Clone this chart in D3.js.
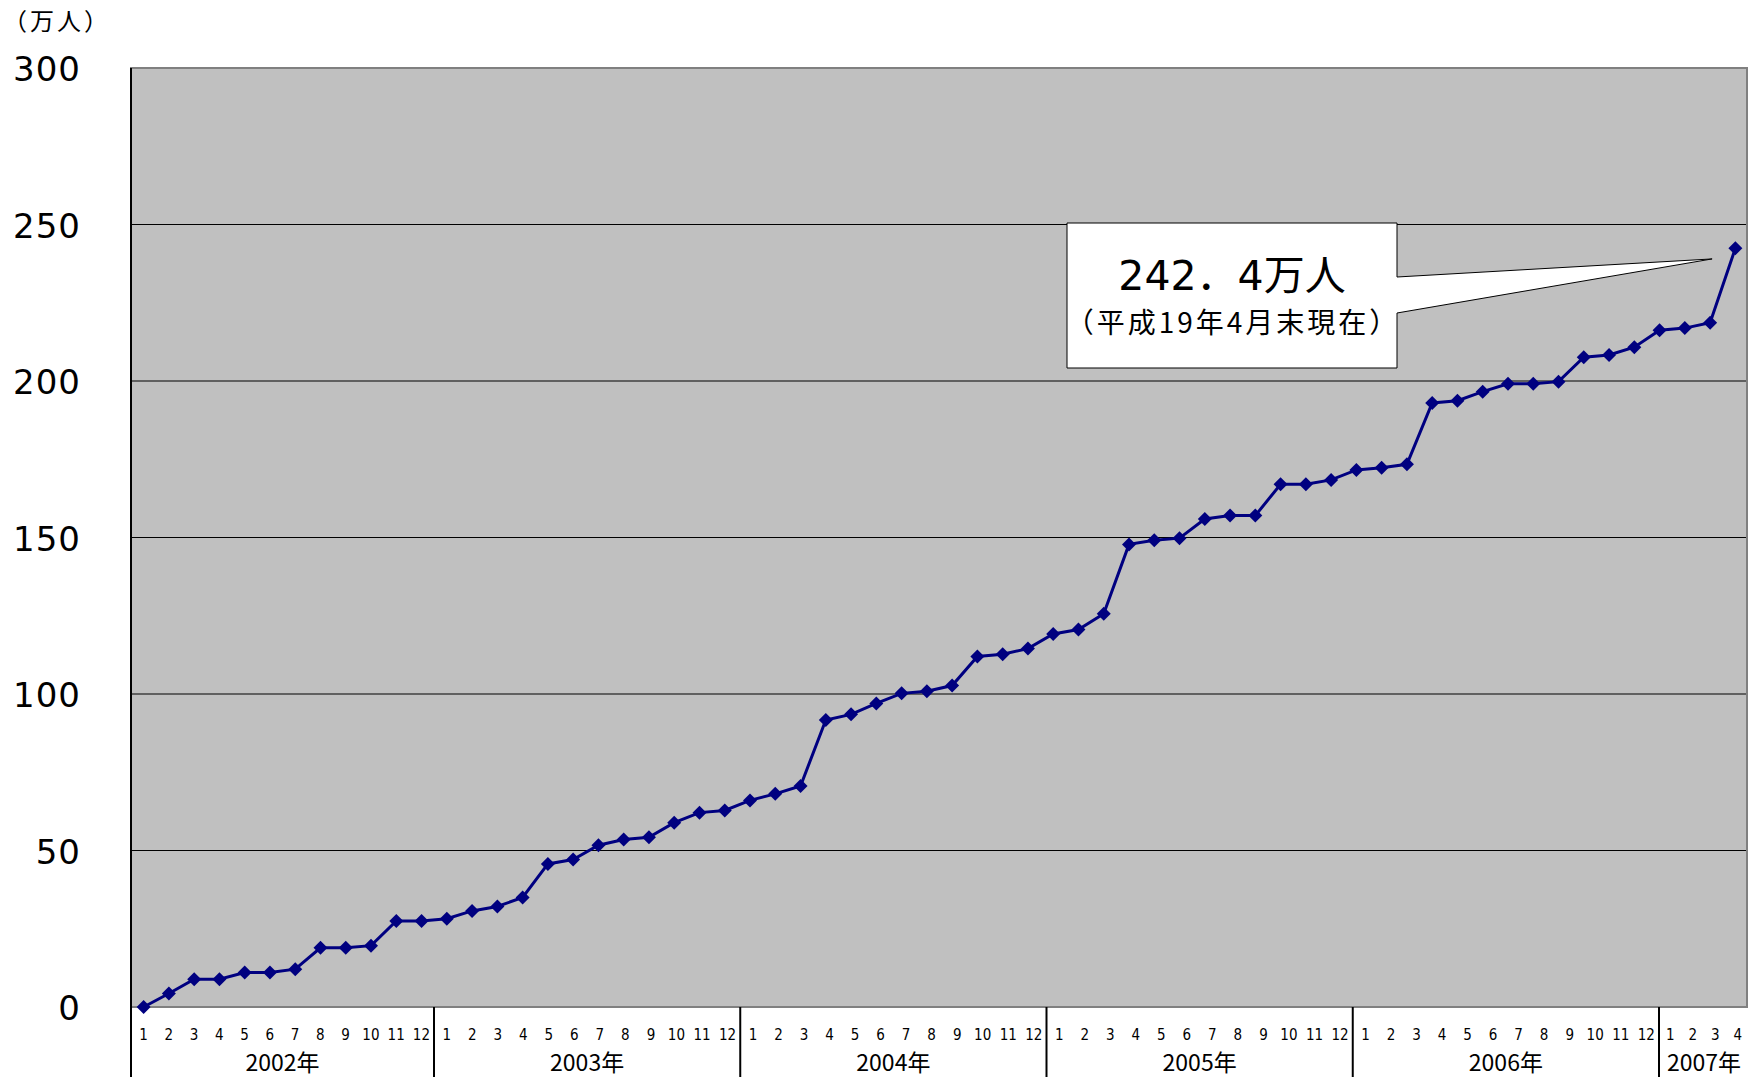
<!DOCTYPE html>
<html>
<head>
<meta charset="utf-8">
<script src="https://cdn.jsdelivr.net/npm/d3@7"></script>
<style>
  body { margin: 0; background: #fff; }
  svg { display: block; }
</style>
</head>
<body>
<div id="chart"></div>
<script>
// months 2002-01 .. 2007-04
var years = ["2002", "2003", "2004", "2005", "2006", "2007"];
var monthsPerYear = [12, 12, 12, 12, 12, 4];
var yTicks = [0, 50, 100, 150, 200, 250, 300];
var values = [
  0, 4.3, 8.9, 8.9, 11, 11, 12.1, 18.9, 18.9, 19.6, 27.5, 27.5,
  28.2, 30.7, 32.1, 35, 45.7, 47.1, 51.7, 53.5, 54.2, 58.9, 62.1, 62.8,
  66, 68.1, 70.6, 91.7, 93.5, 97, 100.2, 100.9, 102.7, 112, 112.7, 114.5,
  119.2, 120.6, 125.6, 147.8, 149.1, 149.8, 155.9, 157, 157, 167, 167, 168.4,
  171.6, 172.3, 173.4, 193, 193.7, 196.6, 199.1, 199.1, 199.8, 207.6, 208.3, 210.8,
  216.2, 216.9, 218.6, 242.4
];
var unitLabel = "（万人）";
var noteMain = "242．4万人";
var noteSub = "（平成19年4月末現在）";

// build category keys
var cats = [];
years.forEach(function(y, i) {
  for (var m = 1; m <= monthsPerYear[i]; m++) cats.push({year: y, month: m, key: y + "-" + m});
});
var data = cats.map(function(c, i) { return {key: c.key, month: c.month, year: c.year, v: values[i]}; });

var W = 1749, H = 1081;
var m = {top: 68, right: 1, bottom: 74, left: 131};
var w = W - m.left - m.right;
var h = H - m.top - m.bottom;

var svg = d3.select("#chart").append("svg")
  .attr("width", W).attr("height", H);

var x = d3.scaleBand().domain(cats.map(function(c) { return c.key; })).range([m.left, m.left + w]);
var y = d3.scaleLinear().domain([0, 300]).range([m.top + h, m.top]);

// the month table under the chart is a bit wider per month than the plot
var xt = d3.scaleLinear().domain([12, 60]).range([434, 1659]);

// plot background
svg.append("rect")
  .attr("x", m.left).attr("y", m.top).attr("width", w).attr("height", h)
  .attr("fill", "#c0c0c0");

// gridlines
svg.append("g").selectAll("line")
  .data(yTicks.filter(function(t) { return t > 0 && t < 300; }))
  .enter().append("line")
  .attr("x1", m.left).attr("x2", m.left + w)
  .attr("y1", function(d) { return y(d); }).attr("y2", function(d) { return y(d); })
  .attr("stroke", "#000").attr("stroke-width", 1);

// plot border
svg.append("rect")
  .attr("x", m.left).attr("y", m.top).attr("width", w - 1).attr("height", h)
  .attr("fill", "none").attr("stroke", "#808080").attr("stroke-width", 2);

// y axis labels
var yAxis = d3.axisLeft(y).tickValues(yTicks).tickSize(0).tickPadding(0);
var gy = svg.append("g").attr("transform", "translate(" + (m.left - 50) + ",0)").call(yAxis);
gy.select(".domain").remove();
gy.selectAll("text")
  .attr("font-family", "'DejaVu Sans', sans-serif")
  .attr("font-size", 34).attr("letter-spacing", 1).attr("fill", "#000").attr("dy", "0.38em");

// left axis line
svg.append("line")
  .attr("x1", m.left).attr("x2", m.left)
  .attr("y1", m.top).attr("y2", H - 4)
  .attr("stroke", "#000").attr("stroke-width", 2);

// year cells: separators, month labels, year labels
var start = 0;
years.forEach(function(yr, i) {
  var n = monthsPerYear[i];
  var c0 = Math.max(xt(start), m.left);
  var c1 = i === years.length - 1 ? W : xt(start + n);
  if (i > 0) {
    svg.append("line")
      .attr("x1", c0).attr("x2", c0)
      .attr("y1", m.top + h).attr("y2", H - 4)
      .attr("stroke", "#000").attr("stroke-width", 2);
  }
  var months = cats.slice(start, start + n).map(function(c) { return c.month; });
  var xm = d3.scaleBand().domain(months).range([c0, c1]);
  var gx = svg.append("g").attr("transform", "translate(0," + (m.top + h + 22) + ")")
    .call(d3.axisBottom(xm).tickSize(0).tickPadding(0));
  gx.select(".domain").remove();
  gx.selectAll("text")
    .attr("font-family", "'Liberation Sans Narrow', 'DejaVu Sans Condensed', sans-serif")
    .attr("font-size", 15).attr("fill", "#000");
  svg.append("text")
    .attr("x", (c0 + c1) / 2)
    .attr("y", m.top + h + 64)
    .attr("text-anchor", "middle")
    .attr("font-family", "'Liberation Sans Narrow', 'Noto Sans CJK JP', sans-serif")
    .attr("font-size", 23)
    .text(yr + "年");
  start += n;
});

// unit label
svg.append("text")
  .attr("x", 3).attr("y", 30)
  .attr("font-family", "'Noto Sans CJK JP', sans-serif")
  .attr("font-size", 24).attr("letter-spacing", 3)
  .text(unitLabel);

// annotation callout (drawn before the series so the line sits on top)
var tipX = x(data[data.length - 2].key) + x.bandwidth() / 2 + 2;
var tipY = y(239);
var bx0 = 1067, bx1 = 1397, by0 = 223, by1 = 368;
svg.append("path")
  .attr("d", "M" + bx0 + "," + by0 + "H" + bx1 + "V277L" + tipX + "," + tipY + "L" + bx1 + ",313V" + by1 + "H" + bx0 + "Z")
  .attr("fill", "#fff").attr("stroke", "#000").attr("stroke-width", 1);
svg.append("text")
  .attr("x", (bx0 + bx1) / 2).attr("y", 290)
  .attr("text-anchor", "middle")
  .attr("font-family", "'DejaVu Sans', 'Noto Sans CJK JP', sans-serif")
  .attr("font-size", 41)
  .text(noteMain);
svg.append("text")
  .attr("x", (bx0 + bx1) / 2 + 1).attr("y", 333)
  .attr("text-anchor", "middle")
  .attr("font-family", "'Noto Sans CJK JP', sans-serif")
  .attr("font-size", 28).attr("letter-spacing", 3)
  .text(noteSub);

// series line
var line = d3.line()
  .x(function(d) { return x(d.key) + x.bandwidth() / 2; })
  .y(function(d) { return y(d.v); });

svg.append("path")
  .datum(data)
  .attr("fill", "none")
  .attr("stroke", "#000080")
  .attr("stroke-width", 3)
  .attr("d", line);

// diamond markers
svg.append("g").selectAll("path")
  .data(data)
  .enter().append("path")
  .attr("d", "M0,-7L7,0L0,7L-7,0Z")
  .attr("transform", function(d) { return "translate(" + (x(d.key) + x.bandwidth() / 2) + "," + y(d.v) + ")"; })
  .attr("fill", "#000080");
</script>
</body>
</html>
